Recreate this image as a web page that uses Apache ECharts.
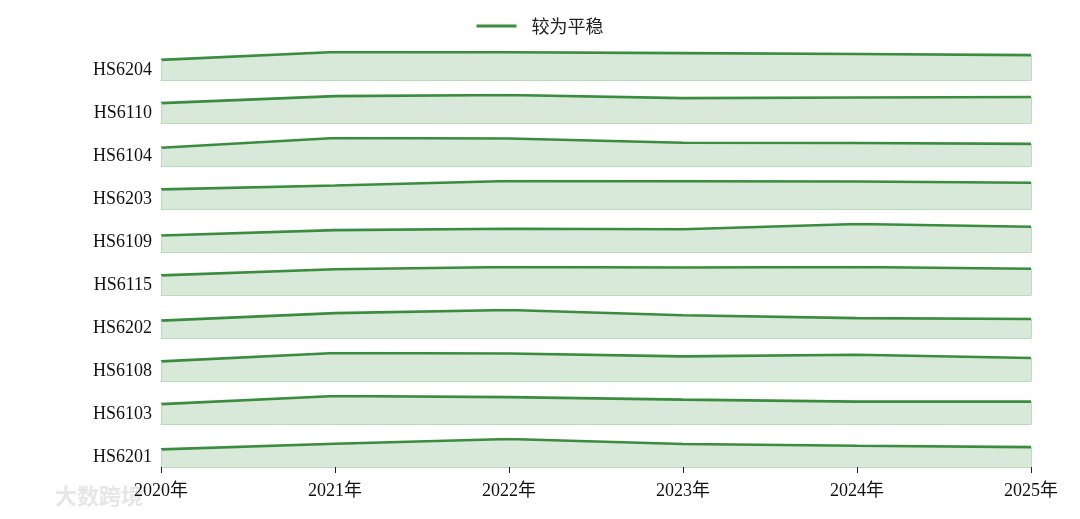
<!DOCTYPE html>
<html><head><meta charset="utf-8">
<script src="https://cdn.jsdelivr.net/npm/echarts@6/dist/echarts.min.js"></script>
<style>html,body{margin:0;padding:0;background:#fff}#c{width:1080px;height:519px}</style>
</head><body><div id="c"></div>
<script>
const years = ['2020年','2021年','2022年','2023年','2024年','2025年'];
const codes = ['HS6204','HS6110','HS6104','HS6203','HS6109','HS6115','HS6202','HS6108','HS6103','HS6201'];
const legendName = '较为平稳';
// normalized values per code (each row scaled to its own max)
const HS6204 = [0.72, 1.00, 0.99, 0.96, 0.93, 0.89];
const HS6110 = [0.71, 0.96, 1.00, 0.89, 0.91, 0.93];
const HS6104 = [0.65, 1.00, 0.98, 0.83, 0.82, 0.79];
const HS6203 = [0.70, 0.84, 1.00, 0.99, 0.98, 0.94];
const HS6109 = [0.59, 0.78, 0.83, 0.81, 1.00, 0.90];
const HS6115 = [0.70, 0.92, 1.00, 0.98, 1.00, 0.94];
const HS6202 = [0.62, 0.89, 1.00, 0.81, 0.71, 0.68];
const HS6108 = [0.70, 1.00, 0.98, 0.88, 0.94, 0.82];
const HS6103 = [0.71, 1.00, 0.96, 0.87, 0.80, 0.80];
const HS6201 = [0.63, 0.83, 1.00, 0.82, 0.76, 0.71];
const rows = [HS6204, HS6110, HS6104, HS6203, HS6109, HS6115, HS6202, HS6108, HS6103, HS6201];

const LINE = '#3a8c3f';
const FILL = 'rgba(58,140,63,0.2)';
const EDGE = '#b9dabb';
const SERIF = "'Liberation Serif','Times New Roman','Noto Sans CJK SC',serif";

const grids = [], xAxes = [], yAxes = [], series = [];
codes.forEach((code, i) => {
  const last = i === codes.length - 1;
  grids.push({left: 161, right: 49, top: 52 + 43 * i, height: 28, containLabel: false});
  xAxes.push({
    type: 'category', gridIndex: i, data: years, boundaryGap: false,
    axisLine: {show: true, lineStyle: {color: EDGE, width: 1}},
    axisTick: {show: last, length: 6, lineStyle: {color: '#222', width: 1}},
    axisLabel: {show: last, fontFamily: SERIF, fontSize: 18, color: '#111', margin: 15},
    splitLine: {show: false}
  });
  yAxes.push({
    type: 'value', gridIndex: i, min: 0, max: 1, interval: 0.35,
    axisLine: {show: false}, axisTick: {show: false}, splitLine: {show: false},
    axisLabel: {
      show: true, margin: 9, fontFamily: SERIF, fontSize: 18, color: '#111',
      formatter: v => Math.abs(v - 0.35) < 1e-6 ? code : ''
    }
  });
  const d = rows[i];
  series.push({
    name: legendName, type: 'line', xAxisIndex: i, yAxisIndex: i,
    data: d, symbol: 'none', smooth: false,
    lineStyle: {color: LINE, width: 2.6},
    itemStyle: {color: LINE},
    areaStyle: {color: FILL, opacity: 1, origin: 'start'},
    markLine: {
      silent: true, symbol: 'none', label: {show: false},
      lineStyle: {color: EDGE, width: 1, type: 'solid'},
      data: [
        [{coord: [years[0], 0]}, {coord: [years[0], d[0]]}],
        [{coord: [years[years.length - 1], 0]}, {coord: [years[years.length - 1], d[d.length - 1]]}]
      ]
    }
  });
});

const chart = echarts.init(document.getElementById('c'), null, {renderer: 'canvas'});
chart.setOption({
  animation: false,
  backgroundColor: '#fff',
  legend: {
    top: 12, left: 'center', data: [legendName],
    itemWidth: 40, itemHeight: 14, icon: 'path://M0,6 L40,6 L40,9 L0,9 Z',
    textStyle: {fontFamily: "'Noto Sans CJK SC',sans-serif", fontSize: 18, color: '#222', padding: [0, 0, 0, 10]},
    itemStyle: {color: LINE}
  },
  graphic: [{
    type: 'text', left: 55, top: 485, silent: true,
    style: {text: '大数跨境', fontSize: 22, fontWeight: 'bold', fontFamily: "'Noto Sans CJK SC',sans-serif", fill: 'rgba(205,205,205,0.5)'}
  }],
  grid: grids, xAxis: xAxes, yAxis: yAxes, series: series
});
</script></body></html>
